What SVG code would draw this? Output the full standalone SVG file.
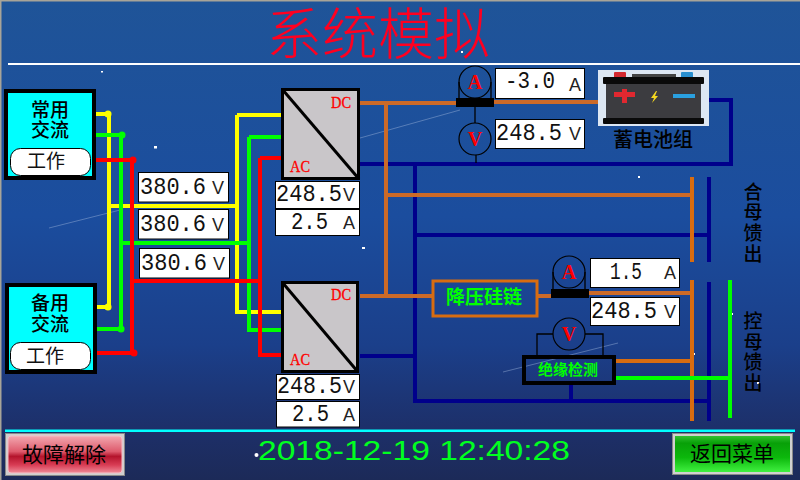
<svg xmlns="http://www.w3.org/2000/svg" width="800" height="480" viewBox="0 0 800 480">
<style>
text{font-family:"Liberation Sans","Noto Sans CJK SC",sans-serif}
.cjk{font-family:"Noto Sans CJK SC",sans-serif;text-anchor:middle}
.w{fill:none;stroke-linecap:butt;stroke-linejoin:miter}
.y{stroke:#ffff00;stroke-width:4}.g{stroke:#00ff00;stroke-width:4}.r{stroke:#ff0000;stroke-width:4}
.o{stroke:#cc6a28;stroke-width:4}.o2{stroke:#d86c10;stroke-width:4}.n{stroke:#00008b;stroke-width:4}
.t{stroke:#000;stroke-width:1.3;fill:none}
.box{fill:#fff;stroke:#000;stroke-width:1}
.lcd{font-family:"Liberation Mono",monospace;font-size:23px;fill:#111}
.unit{font-family:"Liberation Sans Narrow","Liberation Sans",sans-serif;font-size:18px;fill:#222;text-anchor:middle}
.node{fill:#00ffff;stroke:#000;stroke-width:4}
.pill{fill:#fff;stroke:#000;stroke-width:1}
.conv{fill:#c9c6c9;stroke:#000;stroke-width:3}
.dc{font-family:"Liberation Serif",serif;font-size:16px;fill:#ff0000;stroke:#ff0000;stroke-width:.3}
.met{fill:none;stroke:#000;stroke-width:1.2}
.ml{font-family:"Liberation Serif",serif;font-size:20px;font-weight:700;fill:#ff0000;text-anchor:middle}
.star{fill:#fff}
.streak{stroke:#9fb6dc;stroke-width:1;opacity:.45}
</style>
<defs>
<linearGradient id="bg" x1="0" y1="0" x2="0" y2="1">
<stop offset="0" stop-color="#1f5498"/><stop offset=".45" stop-color="#1b4d9e"/><stop offset=".72" stop-color="#1b3f8a"/><stop offset=".9" stop-color="#1d2f68"/><stop offset="1" stop-color="#1c2a58"/>
</linearGradient>
<linearGradient id="rb" x1="0" y1="0" x2="0" y2="1">
<stop offset="0" stop-color="#f2a8b0"/><stop offset=".42" stop-color="#de5a6c"/><stop offset=".55" stop-color="#b4142c"/><stop offset=".78" stop-color="#d83c54"/><stop offset="1" stop-color="#f08a98"/>
</linearGradient>
<linearGradient id="gb" x1="0" y1="0" x2="0" y2="1">
<stop offset="0" stop-color="#30c030"/><stop offset=".2" stop-color="#08a008"/><stop offset=".6" stop-color="#0cb80c"/><stop offset="1" stop-color="#40f040"/>
</linearGradient>
</defs>
<rect width="800" height="480" fill="url(#bg)"/>
<rect width="800" height="1.5" fill="#a8a498"/>
<rect width="1.5" height="480" fill="#a8a498"/>
<g id="backdrop">
<path class="streak" d="M49 228L120 210M360 138L460 110M503 372L618 343"/>
<rect class="star" x="101" y="71" width="2" height="1.5"/><rect class="star" x="154" y="146" width="3" height="2.5"/><rect class="star" x="638" y="176" width="2" height="2"/><rect class="star" x="362" y="247" width="3" height="2"/><rect class="star" x="693" y="353" width="2" height="2"/><rect class="star" x="731" y="313" width="2" height="2"/><rect class="star" x="757" y="382" width="2" height="2"/><rect class="star" x="461" y="51" width="2" height="2"/>
</g>
<rect x="8" y="63" width="792" height="2" fill="#fff"/>
<text id="title" class="cjk" x="378" y="54" font-size="56" font-weight="300" fill="#ff0020">系统模拟</text>
<rect x="5" y="429.500" width="790" height="2.500" fill="#00ffff"/>

<g id="connectors">
<path class="w y" d="M96 114H109V307H97M109 206H237M237 115H281M237 115V312H281"/>
<path class="w g" d="M96 135H122M121 135V329H97M122 243H249M249 137H281M249 137V330H281"/>
<path class="w r" d="M96 160H132M132 160V353H97M132 281H260M260 158H281M260 158V355H281"/>
<g fill="#ffff00"><circle cx="108" cy="114" r="3.500"/><circle cx="108" cy="307" r="3.500"/></g>
<g fill="#00ff00"><circle cx="122" cy="135" r="3.500"/><circle cx="121" cy="329" r="3.500"/></g>
<g fill="#ff0000"><circle cx="133" cy="160" r="3.500"/><circle cx="134" cy="353" r="3.500"/></g>
<path class="w n" d="M360 164H731V100H709M415 164V401H709M415 235H709M360 356H415M571 384V401"/>
<path class="w n" d="M709 177V262M709 282V421"/>
<path class="w o" d="M360 103H456M494 102H598M386 103V296M386 195H692M360 296H432M538 296H551M589 293H692"/>
<path class="w o2" d="M692 177V262M692 280V421M616 361H692"/>
<path class="w g" d="M616 378H730M730 280V418"/>
<path class="t" d="M475 107V123M476 155V163M537 355V334H553M585 334H603V355M459 82V98M491 82V98M553 272V289M585 272V289"/>
</g>

<g id="src1"><rect class="node" x="6" y="91" width="88" height="87"/>
<text class="cjk" x="50" y="117" font-size="19" font-weight="500" fill="#000">常用</text><text class="cjk" x="50" y="137" font-size="19" font-weight="500" fill="#000">交流</text>
<rect class="pill" x="10.500" y="148.500" width="80" height="27" rx="10"/><text class="cjk" x="46" y="168" font-size="19" fill="#111">工作</text></g>
<g id="src2"><rect class="node" x="7" y="285" width="88" height="87"/>
<text class="cjk" x="50" y="310" font-size="19" font-weight="500" fill="#000">备用</text><text class="cjk" x="50" y="331" font-size="19" font-weight="500" fill="#000">交流</text>
<rect class="pill" x="10.500" y="342.500" width="80" height="27" rx="10"/><text class="cjk" x="45" y="363" font-size="19" fill="#111">工作</text></g>

<g id="ac1"><rect class="box" x="138.500" y="172.500" width="90" height="29.500"/><text class="lcd" x="140" y="194" textLength="66" lengthAdjust="spacingAndGlyphs">380.6</text><text class="unit" x="218" y="194">V</text></g>
<g id="ac2"><rect class="box" x="138.500" y="209.500" width="90" height="29.500"/><text class="lcd" x="140" y="231" textLength="66" lengthAdjust="spacingAndGlyphs">380.6</text><text class="unit" x="218" y="231">V</text></g>
<g id="ac3"><rect class="box" x="139.500" y="248.500" width="90" height="29.500"/><text class="lcd" x="141" y="270" textLength="66" lengthAdjust="spacingAndGlyphs">380.6</text><text class="unit" x="219" y="270">V</text></g>

<g id="conv1"><rect class="conv" x="282.500" y="89.500" width="76" height="89"/><path d="M282 89L359 179" stroke="#000" stroke-width="3"/>
<text class="dc" x="331" y="108" textLength="20" lengthAdjust="spacingAndGlyphs">DC</text><text class="dc" x="290" y="172" textLength="20" lengthAdjust="spacingAndGlyphs">AC</text></g>
<g id="conv1v"><rect class="box" x="275.500" y="181.500" width="84" height="27"/><text class="lcd" x="276" y="201" textLength="66" lengthAdjust="spacingAndGlyphs">248.5</text><text class="unit" x="349" y="201">V</text></g>
<g id="conv1a"><rect class="box" x="275.500" y="209.500" width="84" height="26"/><text class="lcd" x="291" y="229" textLength="37" lengthAdjust="spacingAndGlyphs">2.5</text><text class="unit" x="349" y="229">A</text></g>
<g id="conv2"><rect class="conv" x="282.500" y="282.500" width="75" height="89"/><path d="M282 282L358 372" stroke="#000" stroke-width="3"/>
<text class="dc" x="331" y="300" textLength="20" lengthAdjust="spacingAndGlyphs">DC</text><text class="dc" x="290" y="365" textLength="20" lengthAdjust="spacingAndGlyphs">AC</text></g>
<g id="conv2v"><rect class="box" x="276.500" y="374.500" width="83" height="25"/><text class="lcd" x="277" y="393" textLength="65" lengthAdjust="spacingAndGlyphs">248.5</text><text class="unit" x="349" y="393">V</text></g>
<g id="conv2a"><rect class="box" x="276.500" y="401.500" width="83" height="25.500"/><text class="lcd" x="292" y="421" textLength="37" lengthAdjust="spacingAndGlyphs">2.5</text><text class="unit" x="349" y="421">A</text></g>

<g id="ammeter1"><circle class="met" cx="475" cy="82" r="16"/><text class="ml" x="475" y="89">A</text><rect x="456" y="98" width="38" height="9" fill="#000"/></g>
<g id="voltmeter1"><circle class="met" cx="475" cy="139" r="16"/><text class="ml" x="475" y="146">V</text></g>
<g id="bat-a"><rect class="box" x="495.500" y="68.500" width="89" height="30"/><text class="lcd" x="505" y="88" textLength="50" lengthAdjust="spacingAndGlyphs">-3.0</text><text class="unit" x="575" y="91">A</text></g>
<g id="bat-v"><rect class="box" x="495.500" y="119.500" width="89" height="29"/><text class="lcd" x="496" y="140" textLength="66" lengthAdjust="spacingAndGlyphs">248.5</text><text class="unit" x="575" y="140">V</text></g>

<g id="battery"><rect x="598" y="70" width="111" height="56" fill="#dde7f3"/>
<rect x="614" y="72" width="12" height="6" rx="1" fill="#d42a30"/><rect x="632" y="74" width="44" height="4" fill="#444"/><rect x="681" y="72" width="12" height="6" rx="1" fill="#2a90d0"/>
<rect x="603" y="77" width="101" height="7" rx="1" fill="#0a0a0a"/><rect x="606" y="84" width="95" height="35" fill="#3c3c40"/><rect x="603" y="118" width="101" height="6" rx="1" fill="#0a0a0a"/>
<path d="M614 94.500H635M624.500 89V103" stroke="#e02830" stroke-width="5"/><rect x="673" y="94" width="22" height="4" fill="#2aa0e0"/><path d="M656 91L651 98H654L652 103L658 96H655L657 91Z" fill="#f4d820"/>
<text class="cjk" x="653" y="147" font-size="20" font-weight="500" fill="#000">蓄电池组</text></g>

<g id="buck"><rect x="433" y="281" width="104" height="35" fill="none" stroke="#d86c10" stroke-width="3"/><text class="cjk" x="484" y="304" font-size="19" font-weight="700" fill="#00ff00">降压硅链</text></g>
<g id="ammeter2"><circle class="met" cx="569" cy="272" r="16"/><text class="ml" x="569" y="279">A</text><rect x="551" y="289" width="38" height="9" fill="#000"/></g>
<g id="bus-a"><rect class="box" x="590.500" y="258.500" width="89" height="29"/><text class="lcd" x="610" y="279" textLength="32" lengthAdjust="spacingAndGlyphs">1.5</text><text class="unit" x="670" y="279">A</text></g>
<g id="bus-v"><rect class="box" x="590.500" y="297.500" width="89" height="28"/><text class="lcd" x="591" y="318" textLength="66" lengthAdjust="spacingAndGlyphs">248.5</text><text class="unit" x="670" y="318">V</text></g>
<g id="voltmeter2"><circle class="met" cx="569" cy="334" r="16"/><text class="ml" x="569" y="341">V</text></g>
<g id="insulation"><rect x="524" y="357" width="90" height="26" fill="none" stroke="#000" stroke-width="4"/><text class="cjk" x="568" y="375" font-size="15" font-weight="700" fill="#00ff00">绝缘检测</text></g>

<g id="feed1" class="cjk" font-size="19" font-weight="500" fill="#000"><text x="753" y="199">合</text><text x="753" y="219">母</text><text x="753" y="240">馈</text><text x="753" y="261">出</text></g>
<g id="feed2" class="cjk" font-size="19" font-weight="500" fill="#000"><text x="753" y="328">控</text><text x="753" y="349">母</text><text x="753" y="369">馈</text><text x="753" y="390">出</text></g>

<g id="fault"><rect x="5.500" y="433.500" width="119" height="42" fill="#cfcfcf" stroke="#888"/><rect x="8" y="436" width="114" height="37" rx="3" fill="url(#rb)" stroke="#f4c0c8"/><text class="cjk" x="64" y="462" font-size="21" fill="#000">故障解除</text></g>
<g id="menu"><rect x="672.500" y="433.500" width="120" height="41" fill="#d0d0d0" stroke="#888"/><rect x="675" y="436" width="115" height="36" fill="url(#gb)"/><text class="cjk" x="732" y="461" font-size="21" fill="#000">返回菜单</text></g>
<text id="clock" x="258" y="460" font-family="Liberation Mono" font-size="27" fill="#00ff20" textLength="312" lengthAdjust="spacingAndGlyphs">2018-12-19 12:40:28</text>
<circle class="star" cx="256.500" cy="455" r="2"/>
</svg>
